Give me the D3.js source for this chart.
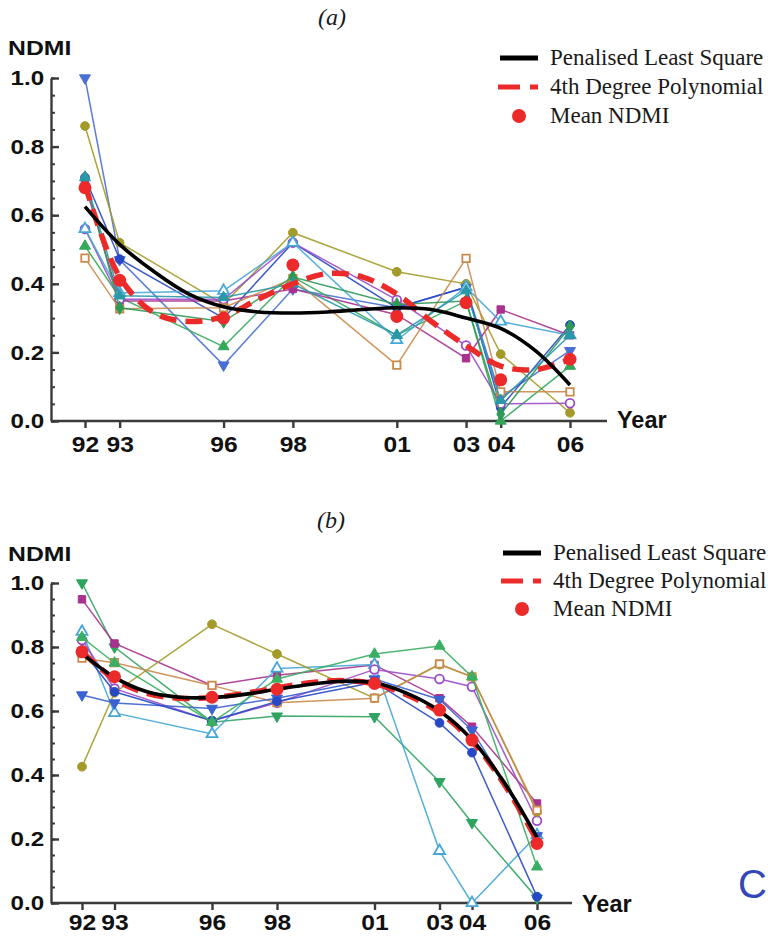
<!DOCTYPE html>
<html>
<head>
<meta charset="utf-8">
<script src="https://cdn.jsdelivr.net/npm/d3@7"></script>
<style>
  body { margin: 0; background: #fff; }
  .sans { font-family: "Liberation Sans", Arial, sans-serif; font-weight: bold; fill: #111; }
  .serif { font-family: "Liberation Serif", "Times New Roman", serif; fill: #1a1a1a; }
</style>
</head>
<body>
<svg width="768" height="946"></svg>
<script>
// ---- data ----
const years = [1992, 1993, 1996, 1998, 2001, 2003, 2004, 2006];
const yearLabels = ["92", "93", "96", "98", "01", "03", "04", "06"];
const yTicks = [0, 0.2, 0.4, 0.6, 0.8, 1.0];
const fitYears = [1992, 1993, 1994, 1995, 1996, 1997, 1998, 1999, 2000, 2001, 2002, 2003, 2004, 2005, 2006];
const legendLabels = ["Penalised Least Square", "4th Degree Polynomial", "Mean NDMI"];

// panel (a)
const sitesA = [
  [1.00, 0.47, 0.163, 0.385, 0.33, 0.39, 0.07, 0.205],
  [0.86, 0.52, 0.34, 0.549, 0.435, 0.40, 0.195, 0.024],
  [0.51, 0.36, 0.217, 0.42, 0.25, 0.35, 0.0, 0.16],
  [0.71, 0.472, 0.30, 0.52, 0.33, 0.39, 0.04, 0.28],
  [0.69, 0.35, 0.35, 0.385, 0.31, 0.183, 0.325, 0.25],
  [0.56, 0.355, 0.355, 0.52, 0.353, 0.22, 0.05, 0.052],
  [0.56, 0.373, 0.38, 0.52, 0.236, 0.39, 0.29, 0.25],
  [0.475, 0.327, 0.33, 0.415, 0.163, 0.474, 0.085, 0.085],
  [0.71, 0.33, 0.29, 0.42, 0.34, 0.35, 0.02, 0.275],
  [0.71, 0.365, 0.36, 0.40, 0.25, 0.38, 0.06, 0.25]
];
const meanA = [0.68, 0.41, 0.30, 0.455, 0.305, 0.345, 0.12, 0.18];
const plsA = [0.625, 0.515, 0.435, 0.37, 0.333, 0.318, 0.315, 0.318, 0.325, 0.33, 0.325, 0.30, 0.27, 0.205, 0.105];
const polyA = [0.69, 0.42, 0.315, 0.29, 0.305, 0.355, 0.40, 0.43, 0.42, 0.37, 0.29, 0.22, 0.16, 0.15, 0.18];

// panel (b)
const sitesB = [
  [1.00, 0.80, 0.565, 0.584, 0.582, 0.379, 0.251, 0.015],
  [0.949, 0.811, 0.68, 0.712, 0.744, 0.64, 0.551, 0.311],
  [0.848, 0.594, 0.528, 0.733, 0.745, 0.163, 0.0, 0.212],
  [0.822, 0.67, 0.569, 0.626, 0.73, 0.70, 0.676, 0.257],
  [0.426, 0.657, 0.871, 0.778, 0.64, 0.745, 0.707, 0.285],
  [0.765, 0.751, 0.68, 0.626, 0.64, 0.747, 0.707, 0.29],
  [0.65, 0.625, 0.608, 0.64, 0.70, 0.636, 0.54, 0.21],
  [0.79, 0.66, 0.57, 0.63, 0.69, 0.563, 0.47, 0.02],
  [0.83, 0.75, 0.565, 0.70, 0.778, 0.803, 0.707, 0.113]
];
const meanB = [0.785, 0.707, 0.643, 0.668, 0.686, 0.603, 0.509, 0.186];
const plsB = [0.78, 0.705, 0.66, 0.643, 0.642, 0.652, 0.668, 0.683, 0.693, 0.688, 0.655, 0.60, 0.51, 0.375, 0.205];
const polyB = [0.785, 0.70, 0.655, 0.64, 0.642, 0.655, 0.672, 0.688, 0.695, 0.685, 0.65, 0.595, 0.505, 0.37, 0.195];

// ---- styles ----
const colorsA = ["#4a6fd4", "#a39a2a", "#34a85a", "#2748c4", "#a8328e", "#9a4cc8", "#45a6d8", "#c98a4c", "#2e9a56", "#2a98a8"];
const shapesA = ["down", "circle", "triangle", "circle", "square", "circle", "triangle", "square", "diamond", "triangle"];
const openA = [false, false, false, false, false, true, true, true, false, false];

const colorsB = ["#2fa460", "#a8328e", "#45a6d8", "#9a4cc8", "#a39a2a", "#c98a4c", "#3a62d0", "#2748c4", "#3aae62"];
const shapesB = ["down", "square", "triangle", "circle", "circle", "square", "down", "circle", "triangle"];
const openB = [false, false, true, true, false, true, false, false, false];

const svg = d3.select("svg");
svg.append("rect").attr("width", 768).attr("height", 946).attr("fill", "#fff");

function sansText(g, x, y, txt, size, anchor, sx) {
  g.append("text")
    .attr("class", "sans")
    .attr("transform", `translate(${x},${y}) scale(${sx},1)`)
    .attr("text-anchor", anchor)
    .attr("font-size", size)
    .text(txt);
}

function symbolPath(shape) {
  const t = { circle: d3.symbolCircle, square: d3.symbolSquare, triangle: d3.symbolTriangle,
              down: d3.symbolTriangle, diamond: d3.symbolDiamond }[shape];
  const size = shape === "circle" ? 60 : shape === "square" ? 55 : 52;
  return d3.symbol().type(t).size(size)();
}

function drawPanel(p) {
  const g = svg.append("g");
  const x = d3.scaleLinear().domain([1992, 2006]).range([p.x0, p.x1]);
  const y = d3.scaleLinear().domain([0, 1]).range([p.yBase, p.yTop]);

  // axes
  g.append("line").attr("x1", p.axisLeft).attr("x2", p.axisRight)
    .attr("y1", p.yBase).attr("y2", p.yBase)
    .attr("stroke", "#3a3a3a").attr("stroke-width", 2.4);

  const yMinor = g.append("g").attr("transform", `translate(${p.axisLeft},0)`)
    .call(d3.axisLeft(y).tickValues(d3.range(0, 21).map(i => i * 0.05)).tickSize(-4).tickSizeOuter(0).tickFormat(""));
  yMinor.select(".domain").remove();
  yMinor.selectAll("line").attr("stroke", "#3a3a3a").attr("stroke-width", 2);

  const yAx = g.append("g").attr("transform", `translate(${p.axisLeft},0)`)
    .call(d3.axisLeft(y).tickValues(yTicks).tickSize(-8).tickSizeOuter(0).tickPadding(6).tickFormat(d3.format(".1f")));
  yAx.select(".domain").attr("stroke", "#3a3a3a").attr("stroke-width", 2.4);
  yAx.selectAll("line").attr("stroke", "#3a3a3a").attr("stroke-width", 2.4);
  yAx.selectAll("text")
    .attr("class", "sans").attr("font-size", 21)
    .attr("transform", "scale(1.15,1)");

  const xAx = g.append("g").attr("transform", `translate(0,${p.yBase})`)
    .call(d3.axisBottom(x).tickValues(years).tickSize(7).tickSizeOuter(0)
      .tickFormat((d, i) => yearLabels[i]));
  xAx.select(".domain").remove();
  xAx.selectAll("line").attr("stroke", "#3a3a3a").attr("stroke-width", 2.4);
  xAx.selectAll("text")
    .attr("class", "sans").attr("font-size", 22)
    .attr("y", p.xLabelOffset).attr("dy", null)
    .attr("transform", "scale(1.12,1)");

  sansText(g, 8, p.ndmiY, "NDMI", 21, "start", 1.18);
  sansText(g, p.yearX, p.yearY, "Year", 23, "start", 1.02);

  g.append("text").attr("class", "serif")
    .attr("x", p.tagX).attr("y", p.tagY)
    .attr("text-anchor", "middle").attr("font-size", 24).attr("font-style", "italic")
    .text(p.tag);

  // site series
  const line = d3.line().x((d, i) => x(years[i])).y(d => y(d));
  p.sites.forEach((vals, s) => {
    const c = p.colors[s];
    g.append("path").attr("d", line(vals))
      .attr("fill", "none").attr("stroke", c).attr("stroke-width", 1.5).attr("stroke-opacity", 0.9);
    g.selectAll(null).data(vals).enter().append("path")
      .attr("d", symbolPath(p.shapes[s]))
      .attr("transform", (d, i) => `translate(${x(years[i])},${y(d)})` + (p.shapes[s] === "down" ? " rotate(180)" : ""))
      .attr("fill", p.open[s] ? "#fff" : c)
      .attr("stroke", c).attr("stroke-width", p.open[s] ? 1.8 : 1);
  });

  // fits
  const fit = d3.line().x((d, i) => x(fitYears[i])).y(d => y(d)).curve(d3.curveCatmullRom);
  g.append("path").attr("d", fit(p.poly))
    .attr("fill", "none").attr("stroke", "#ec2a2a").attr("stroke-width", 5.5)
    .attr("stroke-dasharray", "17,9");
  g.append("path").attr("d", fit(p.pls))
    .attr("fill", "none").attr("stroke", "#000").attr("stroke-width", 3.6);

  g.selectAll(null).data(p.mean).enter().append("circle")
    .attr("cx", (d, i) => x(years[i])).attr("cy", d => y(d))
    .attr("r", 6.5).attr("fill", "#ec2a2a");

  // legend
  const L = g.append("g");
  L.append("line").attr("x1", p.legX).attr("x2", p.legX + 38)
    .attr("y1", p.legY - 7).attr("y2", p.legY - 7)
    .attr("stroke", "#000").attr("stroke-width", 5);
  L.append("line").attr("x1", p.legX - 2).attr("x2", p.legX + 38)
    .attr("y1", p.legY + p.legGap - 7).attr("y2", p.legY + p.legGap - 7)
    .attr("stroke", "#ec2a2a").attr("stroke-width", 5).attr("stroke-dasharray", "22,10,8,10");
  L.append("circle").attr("cx", p.legX + 19).attr("cy", p.legY + 2 * p.legGap - 7)
    .attr("r", 7).attr("fill", "#ec2a2a");
  legendLabels.forEach((t, i) => {
    L.append("text").attr("class", "serif")
      .attr("x", p.legX + 50).attr("y", p.legY + i * p.legGap)
      .attr("font-size", 23).text(t);
  });
}

drawPanel({
  tag: "(a)", tagX: 332, tagY: 25,
  x0: 85, x1: 570, yBase: 421, yTop: 78, axisLeft: 51, axisRight: 607,
  xLabelOffset: 31, ndmiY: 55, yearX: 617, yearY: 428,
  sites: sitesA, colors: colorsA, shapes: shapesA, open: openA,
  mean: meanA, pls: plsA, poly: polyA,
  legX: 500, legY: 65, legGap: 29
});

drawPanel({
  tag: "(b)", tagX: 331, tagY: 528,
  x0: 82, x1: 537, yBase: 903, yTop: 583, axisLeft: 51, axisRight: 572,
  xLabelOffset: 27, ndmiY: 561, yearX: 582, yearY: 912,
  sites: sitesB, colors: colorsB, shapes: shapesB, open: openB,
  mean: meanB, pls: plsB, poly: polyB,
  legX: 503, legY: 560, legGap: 28
});

// stray page letter at the lower right edge
svg.append("text")
  .attr("x", 738).attr("y", 898)
  .attr("font-family", "Liberation Sans, Arial, sans-serif")
  .attr("font-size", 40).attr("fill", "#3447b8")
  .text("C");
</script>
</body>
</html>
